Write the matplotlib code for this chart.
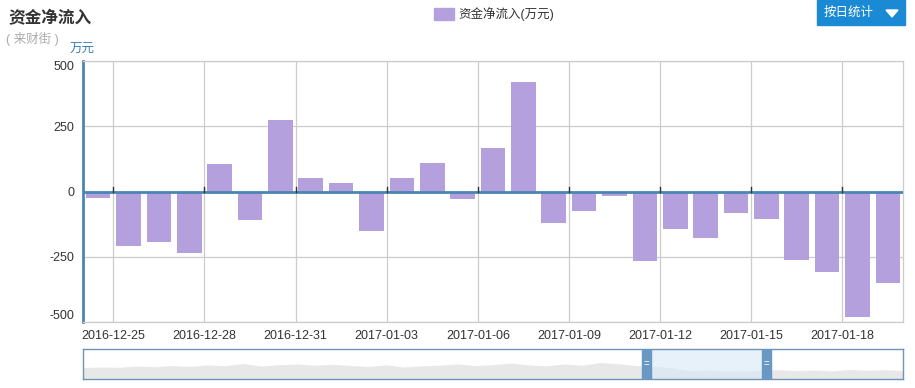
import matplotlib
matplotlib.use("Agg")
import matplotlib.pyplot as plt
from matplotlib.patches import Rectangle, Polygon
import pandas as pd

plt.rcParams['font.family'] = ['Liberation Sans', 'Noto Sans CJK SC']

# daily net inflow (10k yuan)
dates = pd.date_range("2016-12-24", "2017-01-19").strftime("%Y-%m-%d").tolist()
inflow = [-23, -207, -192, -234, 106, -111, 275, 52, 33, -153,
          52, 110, -27, 168, 421, -119, -73, -19, -265, -142,
          -180, -81, -104, -261, -307, -480, -349]
label_dates = ["2016-12-25", "2016-12-28", "2016-12-31", "2017-01-03", "2017-01-06",
               "2017-01-09", "2017-01-12", "2017-01-15", "2017-01-18"]
y_ticks = [-500, -250, 0, 250, 500]

# rough outline of the long history in the zoom slider
overview = [38, 40, 39, 43, 41, 45, 42, 47, 44, 52, 43, 48, 50, 46, 49, 45, 42, 47, 40, 44,
            46, 50, 45, 48, 53, 47, 44, 50, 46, 55, 51, 45, 42, 38, 28, 30, 27, 26, 29, 31,
            28, 30, 27, 32, 29, 31, 28]

bar_color = '#b4a0dd'
axis_blue = '#4a86b4'

fig = plt.figure(figsize=(9.15, 3.88), dpi=100)
ax = fig.add_axes([83 / 915, 1 - 322 / 388, 820 / 915, 261 / 388])

x = list(range(len(dates)))
ax.bar(x, inflow, width=0.81, color=bar_color, zorder=2)

ax.set_xlim(-0.5, len(dates) - 0.5)
ax.set_ylim(-500, 500)

tick_pos = [dates.index(d) - 0.5 for d in label_dates]
ax.set_xticks(tick_pos)
ax.set_xticklabels(label_dates, fontsize=9, color='#333333')
ax.set_yticks(y_ticks)
ax.set_yticklabels([str(v) for v in y_ticks], fontsize=9, color='#333333')
ylabels = ax.get_yticklabels()
ylabels[0].set_va('bottom')
ylabels[-1].set_va('top')
ax.tick_params(axis='both', length=0, pad=6)

ax.grid(True, color='#cccccc', linewidth=0.9, zorder=0)
for s in ['top', 'right', 'bottom']:
    ax.spines[s].set_color('#cccccc')
    ax.spines[s].set_linewidth(0.9)
ax.spines['left'].set_color(axis_blue)
ax.spines['left'].set_linewidth(2)
ax.axhline(0, color=axis_blue, linewidth=2, zorder=3)
for p in tick_pos:
    ax.plot([p, p], [0, 18], color='#333333', linewidth=1, zorder=3)

# titles
fig.text(8 / 915, 1 - 18 / 388, "资金净流入", fontsize=12, fontweight='bold',
         color='#333333', va='center')
fig.text(6 / 915, 1 - 39 / 388, "( 来财街 )", fontsize=9, color='#aaaaaa', va='center')
fig.text(70 / 915, 1 - 50 / 388, "万元", fontsize=9, color='#3c7db0', va='center')

# legend
fig.patches.append(Rectangle((434 / 915, 1 - 20 / 388), 20 / 915, 12 / 388,
                             transform=fig.transFigure, color=bar_color))
fig.text(458 / 915, 1 - 14 / 388, "资金净流入(万元)", fontsize=9, color='#333333', va='center')

# button
fig.patches.append(Rectangle((817 / 915, 1 - 25 / 388), 88 / 915, 25 / 388,
                             transform=fig.transFigure, color='#1a8ad4'))
fig.text(849 / 915, 1 - 13 / 388, "按日统计", fontsize=9, color='white',
         va='center', ha='center')
fig.patches.append(Polygon([(886 / 915, 1 - 10 / 388), (898 / 915, 1 - 10 / 388),
                            (892 / 915, 1 - 17 / 388)],
                           transform=fig.transFigure, color='white'))

# zoom slider
sx = fig.add_axes([83 / 915, 1 - 379 / 388, 820 / 915, 30 / 388])
ox = list(range(len(overview)))
sx.fill_between(ox, 0, overview, color='#e8e8e8', linewidth=0)
sx.set_xlim(0, len(overview) - 1)
sx.set_ylim(0, 100)
sx.set_xticks([])
sx.set_yticks([])
for s in sx.spines.values():
    s.set_color('#6f94b8')
    s.set_linewidth(1)
n = len(overview) - 1
lo, hi = 0.687 * n, 0.833 * n
sx.axvspan(lo, hi, color='#d7e8f7', alpha=0.6, linewidth=0)
for h in [lo, hi]:
    sx.add_patch(Rectangle((h - 0.25, 0), 0.5, 100, color='#6a98c4', zorder=4))
    sx.text(h, 50, "=", color='white', fontsize=7, ha='center', va='center', zorder=5)

fig.savefig('out.png', dpi=100)
